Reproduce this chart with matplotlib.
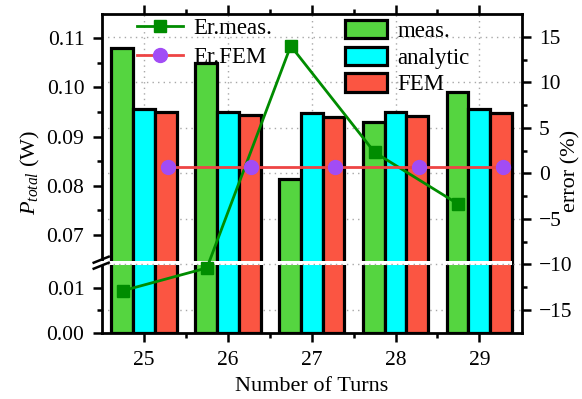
import matplotlib
matplotlib.use("Agg")
import matplotlib.pyplot as plt
import numpy as np
from matplotlib.lines import Line2D
from matplotlib.patches import Rectangle, Patch

plt.rcParams['font.family'] = ['Liberation Serif', 'DejaVu Serif']
plt.rcParams['mathtext.fontset'] = 'custom'
plt.rcParams['mathtext.rm'] = 'Liberation Serif'
plt.rcParams['mathtext.it'] = 'Liberation Serif:italic'

# ---- data ----
turns = [25, 26, 27, 28, 29]
p_meas = [0.1081, 0.1050, 0.0814, 0.0930, 0.0990]
p_analytic = [0.0957, 0.0949, 0.0947, 0.0950, 0.0957]
p_fem = [0.0950, 0.0943, 0.0940, 0.0942, 0.0948]
err_meas = [-12.9, -10.4, 14.0, 2.3, -3.4]
err_fem = [0.7, 0.7, 0.7, 0.7, 0.7]
left_ticks_top = [0.07, 0.08, 0.09, 0.10, 0.11]
left_ticks_bot = [0.00, 0.01]
right_ticks = [-15, -10, -5, 0, 5, 10, 15]

# ---- styles ----
c_meas = '#55D540'
c_ana = '#00FFFF'
c_fem = '#FB5542'
c_line_meas = '#008C00'
c_line_fem = '#EE4444'
c_purple = '#A24CF5'
W, H = 582, 399
L, R, T, B, BR = 101.7, 521.7, 14.3, 332.7, 262.7
FS = 15.5
LFS = 16
BLW = 2.3
SLW = 2.0

fig = plt.figure(figsize=(W / 100, H / 100), dpi=100)

def fx(x):
    return x / W

def fy(y):
    return 1 - y / H

full = [fx(L), fy(B), fx(R) - fx(L), fy(T) - fy(B)]
ax_bg = fig.add_axes(full, zorder=0)
ax_top = fig.add_axes([fx(L), fy(BR), fx(R) - fx(L), fy(T) - fy(BR)], zorder=1)
ax_bot = fig.add_axes([fx(L), fy(B), fx(R) - fx(L), fy(BR) - fy(B)], zorder=1)
ax_err = fig.add_axes(full, zorder=2)

xlim = (24.495, 29.505)
elim = (-17.52, 17.47)

# background grid
ax_bg.set_xlim(*xlim)
ax_bg.set_ylim(*elim)
ax_bg.axis('off')
grid_kw = dict(color='#a8a8a8', lw=1.0, ls=(0, (1, 3)))
for v in right_ticks:
    if v != -10:
        ax_bg.axhline(v, **grid_kw)
for t in turns:
    ax_bg.axvline(t, **grid_kw)

# bars
x = np.array(turns, dtype=float)
w = 0.26
for ax in (ax_top, ax_bot):
    ax.patch.set_visible(False)
    ax.bar(x - w, p_meas, w, color=c_meas, edgecolor='black', linewidth=BLW)
    ax.bar(x, p_analytic, w, color=c_ana, edgecolor='black', linewidth=BLW)
    ax.bar(x + w, p_fem, w, color=c_fem, edgecolor='black', linewidth=BLW)
    ax.set_xlim(*xlim)
    ax.spines['right'].set_visible(False)
    for s in ax.spines.values():
        s.set_linewidth(SLW)
    ax.tick_params(which='both', direction='out', width=1.8, labelsize=FS)
    ax.tick_params(which='major', length=6.5)
    ax.tick_params(which='minor', length=3.6)
    ax.tick_params(axis='y', right=False, pad=6)
    ax.tick_params(axis='x', pad=7)

ax_top.set_ylim(0.0643, 0.1149)
ax_top.spines['bottom'].set_visible(False)
ax_top.set_yticks(left_ticks_top)
ax_top.set_yticklabels(['%.2f' % v for v in left_ticks_top])
ax_top.set_yticks([0.075, 0.085, 0.095, 0.105], minor=True)
ax_top.set_xticks(turns)
ax_top.set_xticks([25.5, 26.5, 27.5, 28.5], minor=True)
ax_top.tick_params(axis='x', which='both', bottom=False, top=True,
                   labelbottom=False, labeltop=False)

ax_bot.set_ylim(0.0, 0.01556)
ax_bot.spines['top'].set_visible(False)
ax_bot.set_yticks(left_ticks_bot)
ax_bot.set_yticklabels(['%.2f' % v for v in left_ticks_bot])
ax_bot.set_yticks([0.005], minor=True)
ax_bot.set_xticks(turns)
ax_bot.set_xticklabels([str(t) for t in turns])
ax_bot.set_xticks([25.5, 26.5, 27.5, 28.5], minor=True)
ax_bot.tick_params(axis='x', which='both', top=False)
ax_bot.set_xlabel('Number of Turns', fontsize=LFS, labelpad=5)

# error axis
ax_err.patch.set_visible(False)
ax_err.set_xlim(*xlim)
ax_err.set_ylim(*elim)
for k in ('left', 'top', 'bottom'):
    ax_err.spines[k].set_visible(False)
ax_err.spines['right'].set_linewidth(SLW)
ax_err.tick_params(axis='x', which='both', bottom=False, top=False,
                   labelbottom=False)
ax_err.yaxis.tick_right()
ax_err.set_yticks(right_ticks)
ax_err.set_yticks([-12.5, -7.5, -2.5, 2.5, 7.5, 12.5], minor=True)
ax_err.tick_params(axis='y', which='both', direction='out', width=1.8,
                   labelsize=FS, left=False, right=True, pad=6)
ax_err.tick_params(axis='y', which='major', length=6.5)
ax_err.tick_params(axis='y', which='minor', length=3.6)
fig.text(fx(571), fy(171), 'error (%)', rotation=90, fontsize=LFS,
         ha='center', va='center')

# break band
band_y = (B - BR) / (B - T)
band_h = 3.6 / (B - T)
ax_err.add_patch(Rectangle((-0.03, band_y - band_h / 2), 1.008, band_h,
                           transform=ax_err.transAxes, facecolor='white',
                           edgecolor='none', clip_on=False, zorder=1))
ax_err.axhline(-10, color='#a8a8a8', lw=1.0, ls=(0, (1, 3)), zorder=1.5)
for yc in (BR - 3.0, BR + 3.0):
    fig.add_artist(Line2D([fx(L - 8), fx(L + 7)], [fy(yc + 3), fy(yc - 3)],
                          color='black', lw=1.8, zorder=5))

# lines
l1, = ax_err.plot(x - 0.25, err_meas, color=c_line_meas, lw=2.0, marker='s',
                  markersize=9, markerfacecolor=c_line_meas,
                  markeredgecolor=c_line_meas, zorder=3)
l2, = ax_err.plot(x + 0.28, err_fem, color=c_line_fem, lw=2.0, marker='o',
                  markersize=10, markerfacecolor=c_purple,
                  markeredgecolor=c_purple, zorder=3)

fig.text(fx(30), fy(172), '$P_{total}$ (W)', rotation=90, fontsize=LFS,
         ha='center', va='center')

# legends
leg1 = fig.legend([l1, l2], ['Er.meas.', 'Er.FEM'], loc='upper left',
                  bbox_to_anchor=(fx(137), fy(18)), frameon=False,
                  fontsize=16.5, borderpad=0, borderaxespad=0,
                  handlelength=2.0, handletextpad=0.45, labelspacing=0.35)
handles2 = [Patch(facecolor=c, edgecolor='black', linewidth=BLW)
            for c in (c_meas, c_ana, c_fem)]
leg2 = fig.legend(handles2, ['meas.', 'analytic', 'FEM'], loc='upper left',
                  bbox_to_anchor=(fx(345), fy(20)), frameon=False,
                  fontsize=16.5, borderpad=0, borderaxespad=0,
                  handlelength=1.85, handleheight=0.85, handletextpad=0.45,
                  labelspacing=0.2)
leg1.set_zorder(10)
leg2.set_zorder(10)

fig.savefig('out.png', dpi=100)
